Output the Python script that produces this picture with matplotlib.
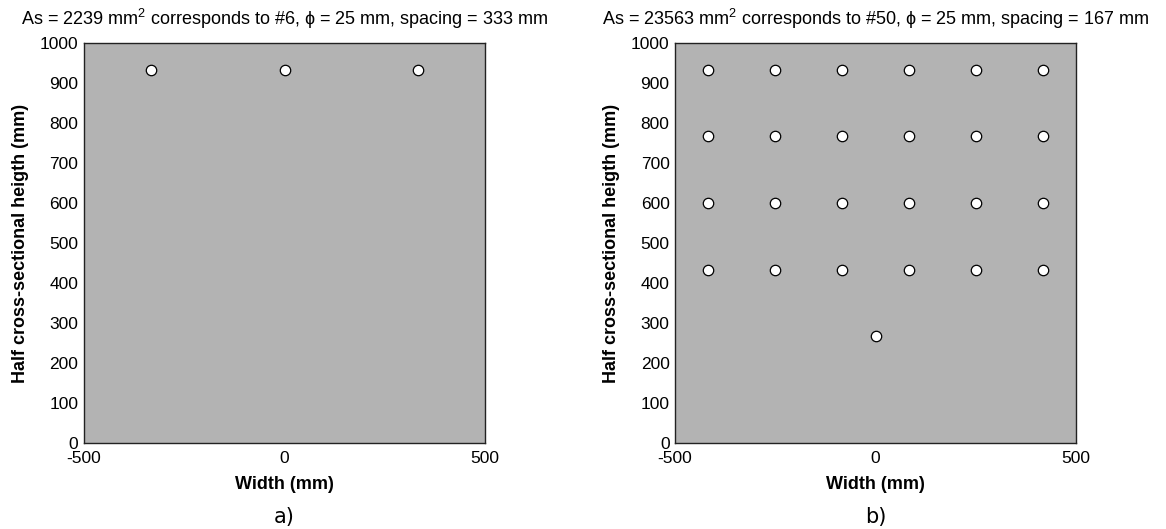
import matplotlib
matplotlib.use('Agg')
import matplotlib.pyplot as plt

plt.rcParams['font.family'] = ['Liberation Sans', 'DejaVu Sans']
plt.rcParams['axes.unicode_minus'] = False
plt.rcParams['mathtext.fontset'] = 'custom'
plt.rcParams['mathtext.rm'] = 'Liberation Sans'
plt.rcParams['mathtext.it'] = 'Liberation Sans'

# bar positions (mm)
a_x = [-333, 0, 333]
a_y = [933, 933, 933]

b_cols = [-417, -250, -83, 83, 250, 417]
b_rows = [933, 767, 600, 433]
b_extra_x = [0]
b_extra_y = [267]

titles = [r"As = 2239 mm$^2$ corresponds to #6, ϕ = 25 mm, spacing = 333 mm",
          r"As = 23563 mm$^2$ corresponds to #50, ϕ = 25 mm, spacing = 167 mm"]
panel_labels = ["a)", "b)"]
xticks = [-500, 0, 500]
yticks = list(range(0, 1001, 100))

b_x = [c for r in b_rows for c in b_cols] + b_extra_x
b_y = [r for r in b_rows for c in b_cols] + b_extra_y

fig = plt.figure(figsize=(11.66, 5.29), dpi=100)
axes = [fig.add_axes([0.072, 0.1626, 0.344, 0.756]),
        fig.add_axes([0.579, 0.1626, 0.344, 0.756])]

for ax, (xs, ys), title, lab in zip(axes, [(a_x, a_y), (b_x, b_y)], titles, panel_labels):
  ax.set_facecolor('#b3b3b3')
  ax.plot(xs, ys, 'o', color='white', markeredgecolor='black',
          markersize=7.5, markeredgewidth=0.9, linestyle='none')
  ax.set_xlim(-500, 500)
  ax.set_ylim(0, 1000)
  ax.set_xticks(xticks)
  ax.set_yticks(yticks)
  ax.tick_params(length=0, labelsize=12.5, pad=4)
  ax.tick_params(axis='x', pad=6)
  for s in ax.spines.values():
    s.set_linewidth(1.0)
    s.set_color('#222222')
  ax.set_title(title, fontsize=13, pad=13)
  ax.set_xlabel("Width (mm)", fontsize=13, fontweight='bold', labelpad=7)
  ax.set_ylabel("Half cross-sectional heigth (mm)", fontsize=13, fontweight='bold', labelpad=8)
  ax.text(0.5, -0.185, lab, transform=ax.transAxes, ha='center', va='center',
          fontsize=15, family='DejaVu Sans')

plt.savefig('out.png')
